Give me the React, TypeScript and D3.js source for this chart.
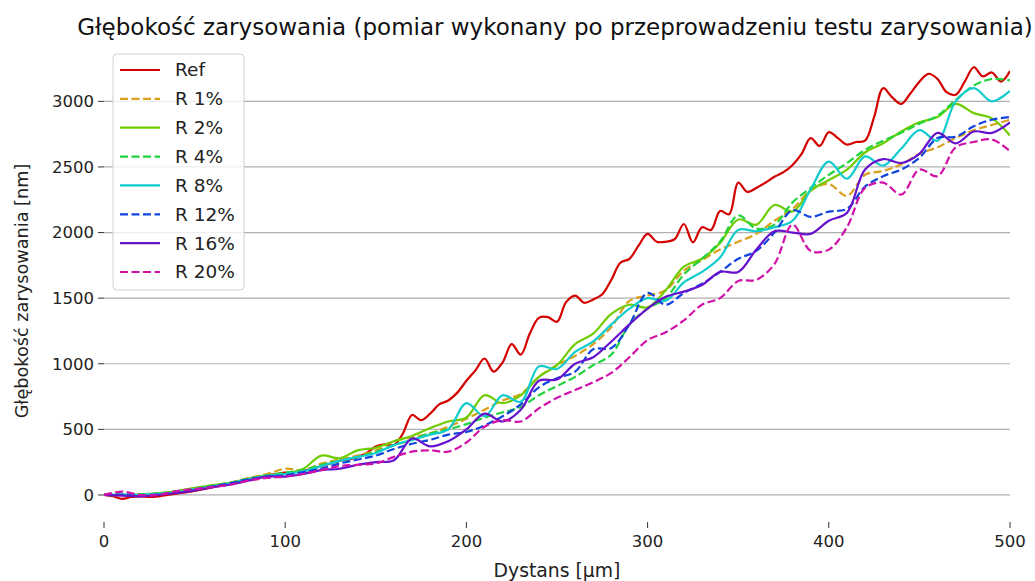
import React from "react";
import * as d3 from "d3";

// sampling grids (µm)
const distanceFine: number[] = d3.range(0, 501, 5);
const distanceCoarse: number[] = d3.range(0, 501, 10);

const refValues = [
  0, -10, -30, -15, -10, -15, -10, 0, 10, 20, 30, 45, 60, 75, 85, 100, 115, 135, 150, 160,
  170, 175, 185, 200, 220, 240, 260, 270, 290, 320, 370, 385, 380, 470, 610, 570, 620, 690, 720, 780,
  870, 950, 1040, 940, 1010, 1150, 1070, 1230, 1350, 1355, 1320, 1470, 1520, 1465, 1490, 1530, 1640, 1770, 1800, 1900,
  1990, 1930, 1930, 1950, 2065, 1925, 2040, 2020, 2165, 2140, 2380, 2310, 2340, 2380, 2425, 2460, 2515, 2600, 2720, 2660,
  2765, 2720, 2670, 2690, 2700, 2880, 3100, 3030, 2980, 3060, 3150, 3210, 3170, 3070, 3050, 3150, 3260, 3190, 3220, 3150,
  3230,
];

const r1Values = [
  0, 5, 0, 10, 25, 45, 70, 95, 130, 160, 200, 190, 240, 270, 300, 340, 410, 440, 470, 520,
  580, 650, 720, 770, 900, 990, 1060, 1150, 1280, 1480, 1520, 1560, 1710, 1790, 1870, 1930, 1990, 2090, 2180, 2320,
  2370, 2280, 2440, 2470, 2520, 2600, 2650, 2720, 2780, 2820, 2860,
];
const r2Values = [
  0, 0, 5, 15, 30, 55, 75, 95, 125, 150, 160, 200, 300, 280, 340, 360, 410, 450, 510, 560,
  590, 760, 700, 760, 900, 990, 1150, 1230, 1380, 1450, 1430, 1560, 1740, 1800, 1920, 2100, 2060, 2210, 2160, 2320,
  2400, 2480, 2610, 2680, 2770, 2840, 2880, 2980, 2910, 2870, 2740,
];
const r4Values = [
  0, 0, 5, 10, 25, 45, 70, 90, 125, 150, 170, 190, 230, 260, 290, 330, 380, 420, 470, 500,
  540, 590, 630, 670, 760, 830, 900, 990, 1070, 1300, 1420, 1500, 1680, 1800, 1930, 2130, 2030, 2060, 2230, 2340,
  2440, 2530, 2630, 2700, 2760, 2830, 2890, 3010, 3120, 3170, 3160,
];
const r8Values = [
  0, 5, 0, 10, 20, 45, 65, 90, 120, 145, 160, 180, 220, 260, 290, 320, 380, 420, 460, 500,
  700, 600, 760, 710, 980, 960, 1090, 1170, 1300, 1420, 1500, 1480, 1620, 1700, 1810, 2020, 2010, 2040, 2090, 2330,
  2540, 2410, 2580, 2510, 2640, 2780, 2700, 3000, 3100, 3000, 3080,
];
const r12Values = [
  0, 0, -5, 5, 20, 40, 65, 90, 120, 140, 150, 175, 200, 240, 270, 300, 350, 390, 420, 460,
  480, 530, 600, 690, 820, 890, 940, 1110, 1120, 1300, 1540, 1450, 1540, 1610, 1700, 1800, 1860, 2000, 2170, 2120,
  2160, 2180, 2350, 2430, 2480, 2570, 2720, 2730, 2810, 2860, 2880,
];
const r16Values = [
  0, -5, -10, 0, 15, 35, 60, 80, 110, 140, 140, 160, 190, 200, 230, 250, 265, 430, 370, 410,
  500, 620, 560, 650, 870, 880, 1000, 1050, 1170, 1300, 1420, 1510, 1550, 1600, 1700, 1700, 1870, 2010, 2000, 1990,
  2090, 2150, 2480, 2560, 2530, 2600, 2760, 2680, 2770, 2760, 2840,
];
const r20Values = [
  0, 25, 0, 0, 30, 45, 60, 80, 110, 130, 140, 160, 190, 220, 230, 240, 290, 330, 340, 330,
  400, 520, 570, 560, 660, 740, 800, 860, 930, 1050, 1180, 1240, 1330, 1450, 1500, 1630, 1640, 1760, 2060, 1860,
  1870, 2040, 2340, 2380, 2290, 2480, 2430, 2650, 2690, 2710, 2620,
];

const seriesNames = ["Ref", "R 1%", "R 2%", "R 4%", "R 8%", "R 12%", "R 16%", "R 20%"];
const seriesColors = ["#d40000", "#d9a01c", "#6fcc00", "#1fd43c", "#11cccc", "#1144dd", "#6611cc", "#d011a8"];
const seriesDashed = [false, true, false, true, false, true, false, true];
const seriesValues = [refValues, r1Values, r2Values, r4Values, r8Values, r12Values, r16Values, r20Values];
const seriesX = [distanceFine, distanceCoarse, distanceCoarse, distanceCoarse, distanceCoarse, distanceCoarse, distanceCoarse, distanceCoarse];

const xTicks = [0, 100, 200, 300, 400, 500];
const yTicks = [0, 500, 1000, 1500, 2000, 2500, 3000];

const title = "Głębokość zarysowania (pomiar wykonany po przeprowadzeniu testu zarysowania)";
const xLabel = "Dystans [µm]";
const yLabel = "Głębokość zarysowania [nm]";

export default function App() {
  const W = 1035;
  const H = 581;
  const left = 104, right = 1010, top = 44, bottom = 522;
  const x = d3.scaleLinear().domain([0, 500]).range([left, right]);
  const y = d3.scaleLinear().domain([-206, 3437]).range([bottom, top]);
  const font = "DejaVu Sans, sans-serif";

  const line = (xs: number[]) =>
    d3
      .line<number>()
      .x((_, i) => x(xs[i]))
      .y((v) => y(v))
      .curve(d3.curveCatmullRom.alpha(0.5));

  const legendX = 113, legendY = 54, legendW = 131, legendH = 236;
  const rowStep = 28.86;

  return (
    <svg width={W} height={H} style={{ position: "absolute", left: 0, top: 0, background: "#fff" }} fontFamily={font}>
      <rect x={0} y={0} width={W} height={H} fill="#fff" />
      {/* grid */}
      {yTicks.map((t) => (
        <line key={"g" + t} x1={left} x2={right} y1={y(t)} y2={y(t)} stroke="#b0b0b0" strokeWidth={1.2} />
      ))}
      {/* y ticks */}
      {yTicks.map((t) => (
        <g key={"yt" + t}>
          <line x1={left - 6} x2={left} y1={y(t)} y2={y(t)} stroke="#333" strokeWidth={1} />
          <text x={left - 10} y={y(t)} dy="0.35em" textAnchor="end" fontSize={16.5} fill="#222">
            {t}
          </text>
        </g>
      ))}
      {/* x ticks */}
      {xTicks.map((t) => (
        <g key={"xt" + t}>
          <line x1={x(t)} x2={x(t)} y1={bottom} y2={bottom + 6} stroke="#333" strokeWidth={1} />
          <text x={x(t)} y={bottom + 25} textAnchor="middle" fontSize={16.5} fill="#222">
            {t}
          </text>
        </g>
      ))}
      {/* lines */}
      <defs>
        <clipPath id="plotclip">
          <rect x={left} y={top} width={right - left} height={bottom - top} />
        </clipPath>
      </defs>
      <g clipPath="url(#plotclip)">
        {seriesValues.map((vals, i) => (
          <path
            key={seriesNames[i]}
            d={line(seriesX[i])(vals) || ""}
            fill="none"
            stroke={seriesColors[i]}
            strokeWidth={2.2}
            strokeDasharray={seriesDashed[i] ? "8,3.5" : undefined}
            strokeLinejoin="round"
          />
        ))}
      </g>
      {/* legend */}
      <rect x={legendX} y={legendY} width={legendW} height={legendH} rx={4} fill="#fff" fillOpacity={0.8} stroke="#d0d0d0" />
      {seriesNames.map((n, i) => {
        const cy = 70 + i * rowStep;
        return (
          <g key={"lg" + n}>
            <line
              x1={120}
              x2={160}
              y1={cy}
              y2={cy}
              stroke={seriesColors[i]}
              strokeWidth={2.2}
              strokeDasharray={seriesDashed[i] ? "8,3.5" : undefined}
            />
            <text x={175} y={cy} dy="0.35em" fontSize={18.5} fill="#222">
              {n}
            </text>
          </g>
        );
      })}
      {/* labels */}
      <text x={(left + right) / 2 - 2} y={35} textAnchor="middle" fontSize={23} fill="#111">
        {title}
      </text>
      <text x={(left + right) / 2} y={577} textAnchor="middle" fontSize={18.8} fill="#222">
        {xLabel}
      </text>
      <text
        transform={`translate(28, 291) rotate(-90)`}
        textAnchor="middle"
        fontSize={17.7}
        fill="#222"
      >
        {yLabel}
      </text>
    </svg>
  );
}
